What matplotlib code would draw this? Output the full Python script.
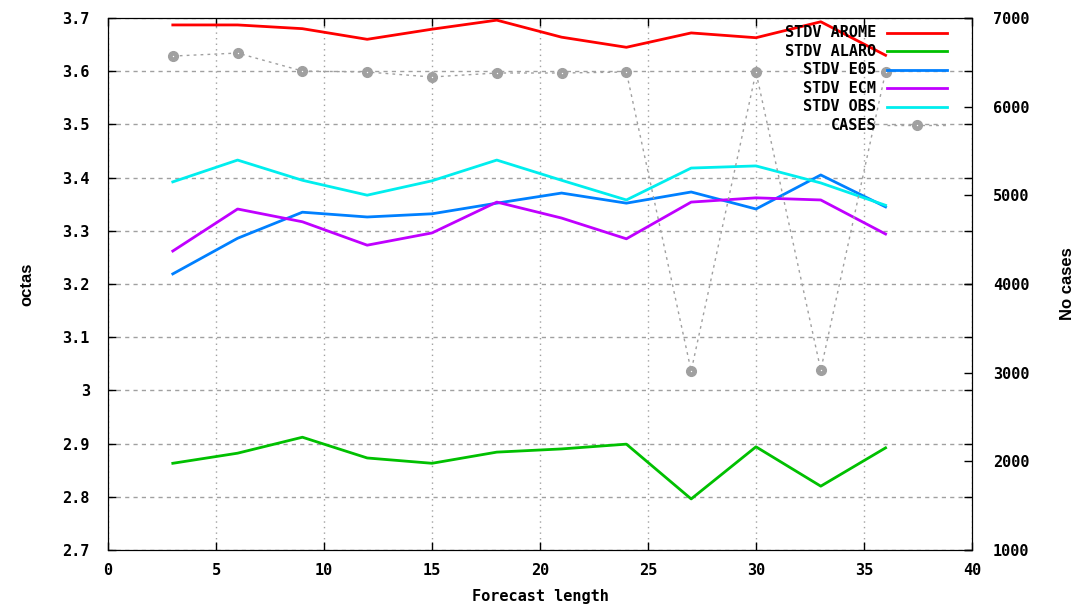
import matplotlib
matplotlib.use("Agg")
import matplotlib.pyplot as plt

# forecast lengths (hours)
steps = [3, 6, 9, 12, 15, 18, 21, 24, 27, 30, 33, 36]

# standard deviations (octas)
stdv_arome = [3.687, 3.687, 3.680, 3.660, 3.679, 3.696, 3.664, 3.645, 3.672, 3.663, 3.693, 3.630]
stdv_alaro = [2.863, 2.882, 2.912, 2.873, 2.863, 2.884, 2.890, 2.899, 2.796, 2.894, 2.820, 2.892]
stdv_e05 = [3.219, 3.286, 3.335, 3.326, 3.332, 3.352, 3.371, 3.352, 3.373, 3.341, 3.405, 3.345]
stdv_ecm = [3.262, 3.341, 3.317, 3.273, 3.296, 3.354, 3.324, 3.285, 3.354, 3.362, 3.358, 3.294]
stdv_obs = [3.392, 3.433, 3.395, 3.367, 3.394, 3.433, 3.395, 3.358, 3.418, 3.422, 3.390, 3.348]

# number of cases (right axis)
cases = [6571, 6605, 6402, 6391, 6335, 6380, 6380, 6391, 3019, 6391, 3030, 6391]

series = [
    ("STDV AROME", stdv_arome, "#ff0000"),
    ("STDV ALARO", stdv_alaro, "#00c000"),
    ("STDV E05", stdv_e05, "#0080ff"),
    ("STDV ECM", stdv_ecm, "#c000ff"),
    ("STDV OBS", stdv_obs, "#00eeee"),
]
grey = "#a0a0a0"

font = "DejaVu Sans Mono"
fs = 11
tfont = dict(fontfamily=font, fontweight="bold", fontsize=fs)

fig = plt.figure(figsize=(10.79, 6.05), dpi=100)
ax = fig.add_axes([0.1001, 0.0909, 0.8007, 0.8793])
ax2 = ax.twinx()

for name, vals, col in series:
    ax.plot(steps, vals, color=col, lw=2)
ax2.plot(steps, cases, color=grey, lw=1, ls=(0, (2, 3)),
         marker="o", ms=7, mfc=grey, mec=grey)
ax2.plot(steps, cases, ls="none", marker="o", ms=1, mew=0, mfc="white")

ax.set_xlim(0, 40)
ax.set_ylim(2.7, 3.7)
ax2.set_ylim(1000, 7000)
ax.set_xticks(range(0, 41, 5))
ax.set_yticks([2.7 + 0.1 * i for i in range(11)])
ax.set_yticklabels(["2.7", "2.8", "2.9", "3", "3.1", "3.2", "3.3", "3.4", "3.5", "3.6", "3.7"])
ax2.set_yticks(range(1000, 7001, 1000))

ax.grid(True, axis="x", color=grey, ls=(0, (1, 3)), lw=1)
ax.grid(True, axis="y", color=grey, ls=(0, (3, 3)), lw=1)

ax.tick_params(direction="in", length=6, top=True, right=True, width=1)
ax2.tick_params(direction="in", length=6, width=1)
for lab in ax.get_xticklabels() + ax.get_yticklabels() + ax2.get_yticklabels():
    lab.set_fontfamily(font)
    lab.set_fontweight("bold")
    lab.set_fontsize(fs)
ax.tick_params(axis="x", pad=9)
ax.tick_params(axis="y", pad=13)
ax2.tick_params(axis="y", pad=15)

ax.set_xlabel("Forecast length", labelpad=8, **tfont)
ax.set_ylabel("octas", fontfamily="Liberation Sans", fontweight="bold", fontsize=12, labelpad=20)
ax2.set_ylabel("No cases", fontfamily="Liberation Sans", fontweight="bold", fontsize=12, labelpad=22)

# key in the upper right, text right-aligned in front of the samples
y0, dy = 0.972, 0.0348
for i, (name, vals, col) in enumerate(series):
    y = y0 - i * dy
    ax2.text(0.889, y, name, transform=ax2.transAxes, ha="right", va="center", **tfont)
    ax2.plot([0.9016, 0.971], [y, y], color=col, lw=2, transform=ax2.transAxes, clip_on=False)
y = y0 - len(series) * dy
ax2.text(0.889, y, "CASES", transform=ax2.transAxes, ha="right", va="center", **tfont)
ax2.plot([0.9016, 0.971], [y, y], color=grey, lw=1, ls=(0, (2, 3)), transform=ax2.transAxes, clip_on=False)
ax2.plot([0.936], [y], marker="o", ms=7, mfc=grey, mec=grey, transform=ax2.transAxes)
ax2.plot([0.936], [y], marker="o", ms=1, mew=0, mfc="white", transform=ax2.transAxes)

fig.savefig("out.png", dpi=100)
